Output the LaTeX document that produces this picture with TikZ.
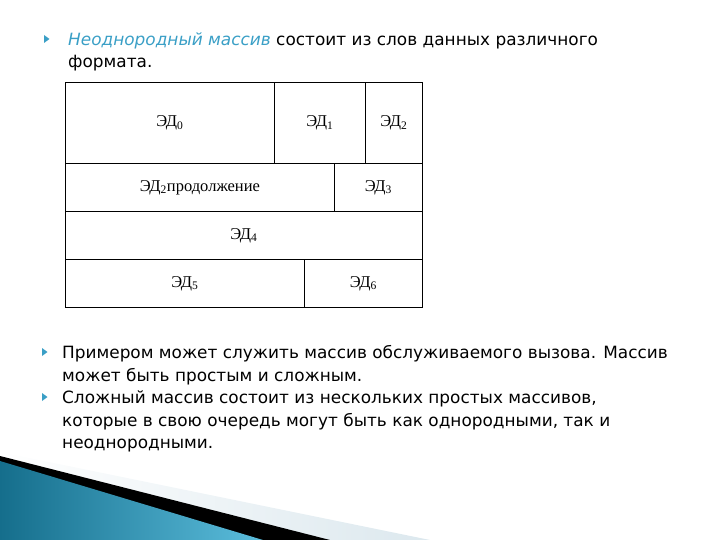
\documentclass[tikz,border=0pt]{standalone}
\usepackage{fontspec}
\setmainfont{DejaVu Sans}
\newfontfamily\tabfont{Liberation Serif}
\definecolor{accent}{HTML}{3A9FC6}
\definecolor{tealdark}{HTML}{156E8C}
\definecolor{teallight}{HTML}{5BBDDC}
\definecolor{stripe}{HTML}{DCE8EE}
\begin{document}
\begin{tikzpicture}[x=1pt,y=-1pt,
  cell/.style={draw=black, line width=0.9pt, inner sep=0pt, anchor=north west,
    font=\tabfont\fontsize{16.5}{16.5}\selectfont},
  body/.style={anchor=base west, inner sep=0pt, font=\fontsize{16.9}{22}\selectfont},
  bul/.style={fill=accent}]
\useasboundingbox (0,0) rectangle (720,540);
% bottom decoration
\shade[left color=white, right color=stripe] (0,452) -- (430,540) -- (0,540) -- cycle;
\fill[black] (0,456) -- (330,540) -- (0,540) -- cycle;
\shade[left color=tealdark, right color=teallight] (0,461) -- (263,540) -- (0,540) -- cycle;
% bullets
\fill[bul] (44,35) -- (49.5,39) -- (44,43) -- cycle;
\fill[bul] (42,348) -- (47.5,352) -- (42,356) -- cycle;
\fill[bul] (42,393) -- (47.5,397) -- (42,401) -- cycle;
% text
\node[body] (t1) at (68,46) {{\color{accent}\itshape Неоднородный массив} состоит из слов данных различного};
\node[body] (t2) at (68,68) {формата.};
\node[body] (t3) at (62,358) {Примером может служить массив обслуживаемого вызова. Массив};
\node[body] (t4) at (62,381) {может быть простым и сложным.};
\node[body] (t5) at (62,403) {Сложный массив состоит из нескольких простых массивов,};
\node[body] (t6) at (62,426) {которые в свою очередь могут быть как однородными, так и};
\node[body] (t7) at (62,448) {неоднородными.};
% table
\node[cell, minimum width=209, minimum height=81] (c0) at (65,82) {ЭД\textsubscript{0}};
\node[cell, minimum width=91, minimum height=81] (c1) at (274,82) {ЭД\textsubscript{1}};
\node[cell, minimum width=57, minimum height=81] (c2) at (365,82) {ЭД\textsubscript{2}};
\node[cell, minimum width=269, minimum height=48] (c2b) at (65,163) {ЭД\textsubscript{2}продолжение};
\node[cell, minimum width=88, minimum height=48] (c3) at (334,163) {ЭД\textsubscript{3}};
\node[cell, minimum width=357, minimum height=48] (c4) at (65,211) {ЭД\textsubscript{4}};
\node[cell, minimum width=239, minimum height=48] (c5) at (65,259) {ЭД\textsubscript{5}};
\node[cell, minimum width=118, minimum height=48] (c6) at (304,259) {ЭД\textsubscript{6}};
\end{tikzpicture}
\end{document}
